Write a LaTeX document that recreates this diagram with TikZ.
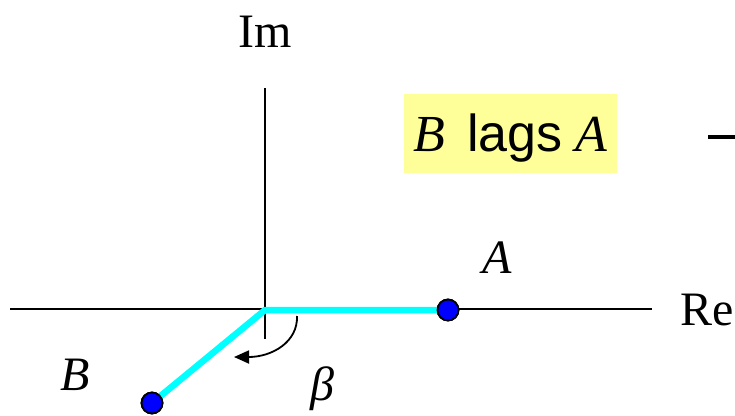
\documentclass[tikz,border=0pt]{standalone}
\usepackage{fontspec}
\setmainfont{Liberation Serif}
\newfontfamily\arialfont{Liberation Sans}
\usetikzlibrary{arrows.meta}
\definecolor{boxyellow}{HTML}{FFFF99}
\definecolor{phcyan}{HTML}{00FFFF}
\definecolor{dotblue}{HTML}{0000FF}
\begin{document}
\begin{tikzpicture}[x=1pt,y=-1pt,
  axis/.style={line width=1.8pt, black},
  phasor/.style={line width=6.5pt, phcyan},
  dot/.style={circle, draw=black, line width=1.8pt, fill=dotblue, minimum size=21pt, inner sep=0pt},
  lbl/.style={font=\fontsize{48}{50}\selectfont, inner sep=0pt, anchor=base}
]
\useasboundingbox (0,0) rectangle (735,415);
\clip (0,0) rectangle (735,415);
% axes
\coordinate (O) at (265,309);
\coordinate (xl) at (10,309);
\coordinate (xr) at (652,309);
\coordinate (yt) at (265,88);
\coordinate (yb) at (265,339);
\draw[axis] (xl) -- (xr);
\draw[axis] (yt) -- (yb);
% phasors
\coordinate (Oc) at (265,310);
\node[dot] (A) at (448,310) {};
\node[dot] (B) at (152,403) {};
\draw[phasor] (B.center) -- (Oc) -- (A.center);
\node[dot] at (448,310) {};
\node[dot] at (152,403) {};
% angle arrow
\coordinate (s) at (297,316);
\coordinate (e) at (234,357);
\draw[line width=1.8pt, -{Triangle[length=15pt,width=13pt]}] (s) .. controls (298,342) and (272,357) .. (e);
% labels
\node[lbl] (im) at (265,47) {Im};
\node[lbl, anchor=base west] (re) at (680,325) {Re};
\node[lbl] (la) at (497,273) {\itshape A};
\node[lbl] (lb) at (75,390) {\itshape B};
\node[lbl] (lbeta) at (322,400) {\itshape β};
% yellow box
\fill[boxyellow] (404,94) rectangle (617,173);
\node[lbl, anchor=base, font=\fontsize{52}{56}\selectfont] (box) at (510.5,151) {\itshape B\/\, {\arialfont\upshape lags} A};
% cut-off dash
\draw[line width=4pt] (708,136.5) -- (736,136.5);
\end{tikzpicture}
\end{document}
